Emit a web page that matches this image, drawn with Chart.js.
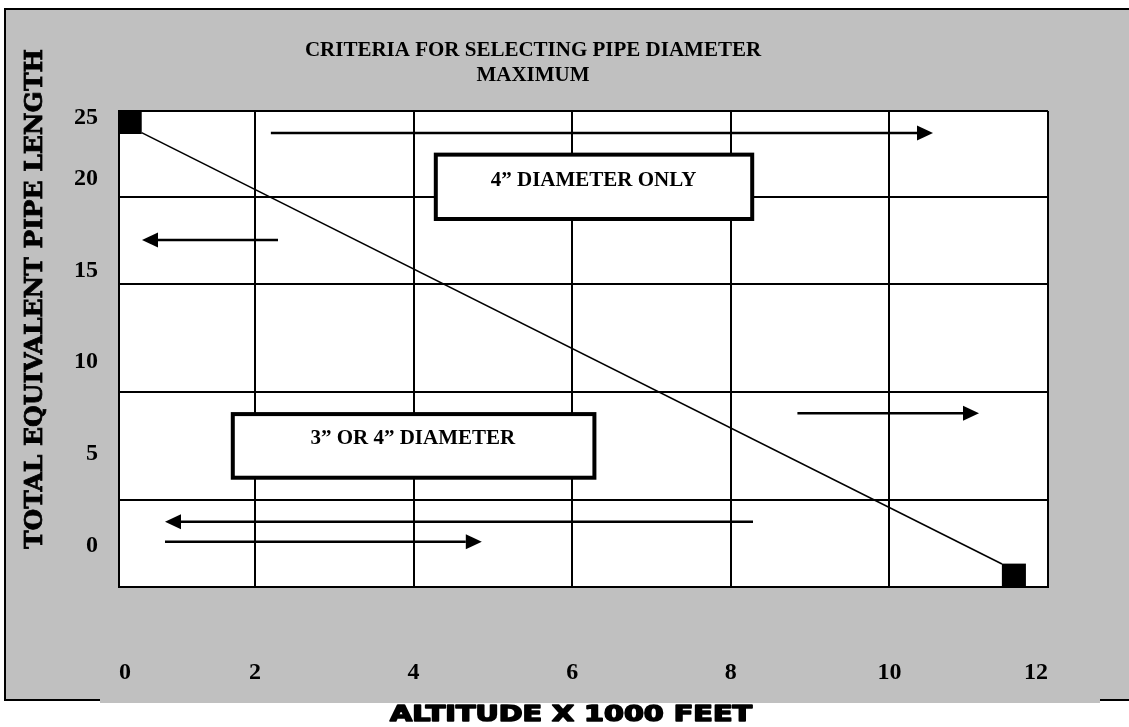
<!DOCTYPE html>
<html><head><meta charset="utf-8">
<script src="https://cdn.jsdelivr.net/npm/chart.js@4.4.1/dist/chart.umd.min.js"></script>
<style>html,body{margin:0;padding:0;background:#fff;overflow:hidden}canvas{display:block}</style>
</head><body>
<canvas id="c" width="1129" height="727"></canvas>
<script>
// ---------- chart values ----------
const chartTitle = ['CRITERIA FOR SELECTING PIPE DIAMETER', 'MAXIMUM'];
const xAxisTitle = 'ALTITUDE X 1000 FEET';
const yAxisTitle = 'TOTAL EQUIVALENT PIPE LENGTH';
const xTickValues = [0, 2, 4, 6, 8, 10, 12];
const xTickLabels = ['0', '2', '4', '6', '8', '10', '12'];
const yTickValues = [0, 5, 10, 15, 20, 25];
const yTickLabels = ['0', '5', '10', '15', '20', '25'];
const yGridValues = [-2.26, 2.48, 8.36, 14.28, 19.0, 23.7];
const limitLineX = [0.57, 11.42];
const limitLineY = [22.52, -1.01];
const endPointX = [0.42, 11.57];
const endPointY = [23.10, -1.64];
const regionLabels = ['4\u201D DIAMETER ONLY', '3\u201D OR 4\u201D DIAMETER'];

// ---------- layout / styling (not data) ----------
const X_MIN = 0.285, X_MAX = 12, Y_MIN = -2.26, Y_MAX = 23.7;
const regionBoxes = [
  {x0: 4.28, x1: 8.27, y0: 17.81, y1: 21.32, tx: 6.27, ty: 19.92},
  {x0: 1.72, x1: 6.28, y0: 3.70, y1: 7.17, tx: 3.99, ty: 5.81}
];
const arrows = [
  {y: 22.50, from: 2.20, to: 10.55},
  {y: 16.67, from: 2.29, to: 0.575},
  {y: 7.21, from: 8.84, to: 11.13},
  {y: 1.30, from: 8.28, to: 0.865},
  {y: 0.21, from: 0.865, to: 4.86}
];
const SERIF = '"Liberation Serif", "Times New Roman", Times, serif';

const panelPlugin = {
  id: 'panel',
  beforeDraw(chart) {
    const {ctx, chartArea: a, width, height} = chart;
    ctx.save();
    ctx.fillStyle = '#ffffff';
    ctx.fillRect(0, 0, width, height);
    ctx.fillStyle = '#c0c0c0';
    ctx.fillRect(5, 9, width - 5, 692);
    ctx.fillRect(100, 700, 1000, 3);
    ctx.strokeStyle = '#000';
    ctx.lineWidth = 2;
    ctx.beginPath();
    ctx.moveTo(4, 9); ctx.lineTo(width, 9);
    ctx.moveTo(5, 8); ctx.lineTo(5, 701);
    ctx.moveTo(4, 700); ctx.lineTo(100, 700);
    ctx.moveTo(1100, 700); ctx.lineTo(width, 700);
    ctx.stroke();
    ctx.fillStyle = '#ffffff';
    ctx.fillRect(a.left, a.top, a.right - a.left, a.bottom - a.top);
    ctx.restore();
  },
  afterDatasetsDraw(chart) {
    const {ctx, scales: {x, y}} = chart;
    ctx.save();
    regionBoxes.forEach((b, i) => {
      const l = x.getPixelForValue(b.x0), r = x.getPixelForValue(b.x1);
      const t = y.getPixelForValue(b.y1), bt = y.getPixelForValue(b.y0);
      ctx.fillStyle = '#fff';
      ctx.fillRect(l, t, r - l, bt - t);
      ctx.lineWidth = 4;
      ctx.strokeStyle = '#000';
      ctx.strokeRect(l, t, r - l, bt - t);
      ctx.fillStyle = '#000';
      ctx.font = 'bold 21px ' + SERIF;
      ctx.textAlign = 'center';
      ctx.textBaseline = 'middle';
      ctx.fillText(regionLabels[i], x.getPixelForValue(b.tx), y.getPixelForValue(b.ty));
    });
    arrows.forEach(a => {
      const py = y.getPixelForValue(a.y);
      const x0 = x.getPixelForValue(a.from), x1 = x.getPixelForValue(a.to);
      const dir = Math.sign(x1 - x0);
      const head = 16, half = 7.5;
      ctx.strokeStyle = '#000';
      ctx.lineWidth = 2.5;
      ctx.beginPath();
      ctx.moveTo(x0, py); ctx.lineTo(x1 - dir * head, py);
      ctx.stroke();
      ctx.fillStyle = '#000';
      ctx.beginPath();
      ctx.moveTo(x1, py);
      ctx.lineTo(x1 - dir * head, py - half);
      ctx.lineTo(x1 - dir * head, py + half);
      ctx.closePath();
      ctx.fill();
    });
    ctx.restore();
  },
  afterDraw(chart) {
    const {ctx} = chart;
    // y axis title (rotated, heavy slab serif)
    ctx.save();
    ctx.fillStyle = '#000';
    ctx.strokeStyle = '#000';
    ctx.textAlign = 'center';
    ctx.textBaseline = 'middle';
    ctx.font = 'bold 25px "DejaVu Serif", serif';
    ctx.translate(35, 299);
    ctx.rotate(-Math.PI / 2);
    const wy = ctx.measureText(yAxisTitle).width;
    ctx.scale(500 / wy, 1);
    ctx.lineWidth = 0.8;
    ctx.fillText(yAxisTitle, 0, 0);
    ctx.strokeText(yAxisTitle, 0, 0);
    ctx.restore();
    // x axis title (wide black sans)
    ctx.save();
    ctx.fillStyle = '#000';
    ctx.strokeStyle = '#000';
    ctx.textAlign = 'center';
    ctx.textBaseline = 'middle';
    ctx.font = '900 22px "Arial Black", "DejaVu Sans", sans-serif';
    ctx.translate(571, 715);
    const wx = ctx.measureText(xAxisTitle).width;
    ctx.scale(362 / wx, 1);
    ctx.lineWidth = 1.6;
    ctx.lineJoin = 'round';
    ctx.fillText(xAxisTitle, 0, 0);
    ctx.strokeText(xAxisTitle, 0, 0);
    ctx.restore();
  }
};

new Chart(document.getElementById('c'), {
  type: 'scatter',
  data: {
    datasets: [
      {
        label: 'Maximum length',
        data: limitLineX.map((v, i) => ({x: v, y: limitLineY[i]})),
        showLine: true,
        borderColor: '#000',
        borderWidth: 1.6,
        pointRadius: 0,
        yAxisID: 'y'
      },
      {
        label: 'End points',
        data: endPointX.map((v, i) => ({x: v, y: endPointY[i]})),
        showLine: false,
        pointStyle: 'rect',
        pointRadius: 17,
        backgroundColor: '#000',
        borderWidth: 0,
        yAxisID: 'y'
      }
    ]
  },
  options: {
    responsive: false,
    devicePixelRatio: 1,
    animation: false,
    events: [],
    layout: {padding: {left: 18, right: 81, top: 0, bottom: 0}},
    plugins: {
      legend: {display: false},
      tooltip: {enabled: false},
      title: {
        display: true,
        text: chartTitle,
        color: '#000',
        font: {family: SERIF, size: 21, weight: 'bold', lineHeight: 1.2},
        padding: {top: 38, bottom: 22.6}
      }
    },
    scales: {
      x: {
        type: 'linear',
        min: X_MIN,
        max: X_MAX,
        afterBuildTicks: s => { s.ticks = xTickValues.map(v => ({value: Math.max(v, X_MIN)})); },
        afterFit: s => { s.height = 140; },
        grid: {color: '#000', lineWidth: 2, drawTicks: false},
        border: {display: true, color: '#000', width: 2},
        ticks: {
          autoSkip: false,
          align: 'inner',
          maxRotation: 0,
          padding: 71,
          color: '#000',
          font: {family: SERIF, size: 24, weight: 'bold'},
          callback: (v, i) => xTickLabels[i]
        }
      },
      y: {
        type: 'linear',
        position: 'left',
        min: Y_MIN,
        max: Y_MAX,
        afterBuildTicks: s => { s.ticks = yTickValues.map(v => ({value: Math.min(v, Y_MAX - 0.38)})); },
        afterFit: s => { s.width = 101; },
        grid: {display: false, drawTicks: false},
        border: {display: true, color: '#000', width: 2},
        ticks: {
          autoSkip: false,
          padding: 21,
          color: '#000',
          font: {family: SERIF, size: 24, weight: 'bold'},
          callback: (v, i) => yTickLabels[i]
        }
      },
      yg: {
        type: 'linear',
        position: 'left',
        min: Y_MIN,
        max: Y_MAX,
        afterBuildTicks: s => { s.ticks = yGridValues.map(v => ({value: v})); },
        afterFit: s => { s.width = 0; },
        grid: {color: '#000', lineWidth: 2, drawTicks: false},
        border: {display: false},
        ticks: {display: false}
      }
    }
  },
  plugins: [panelPlugin]
});
</script>
</body></html>
